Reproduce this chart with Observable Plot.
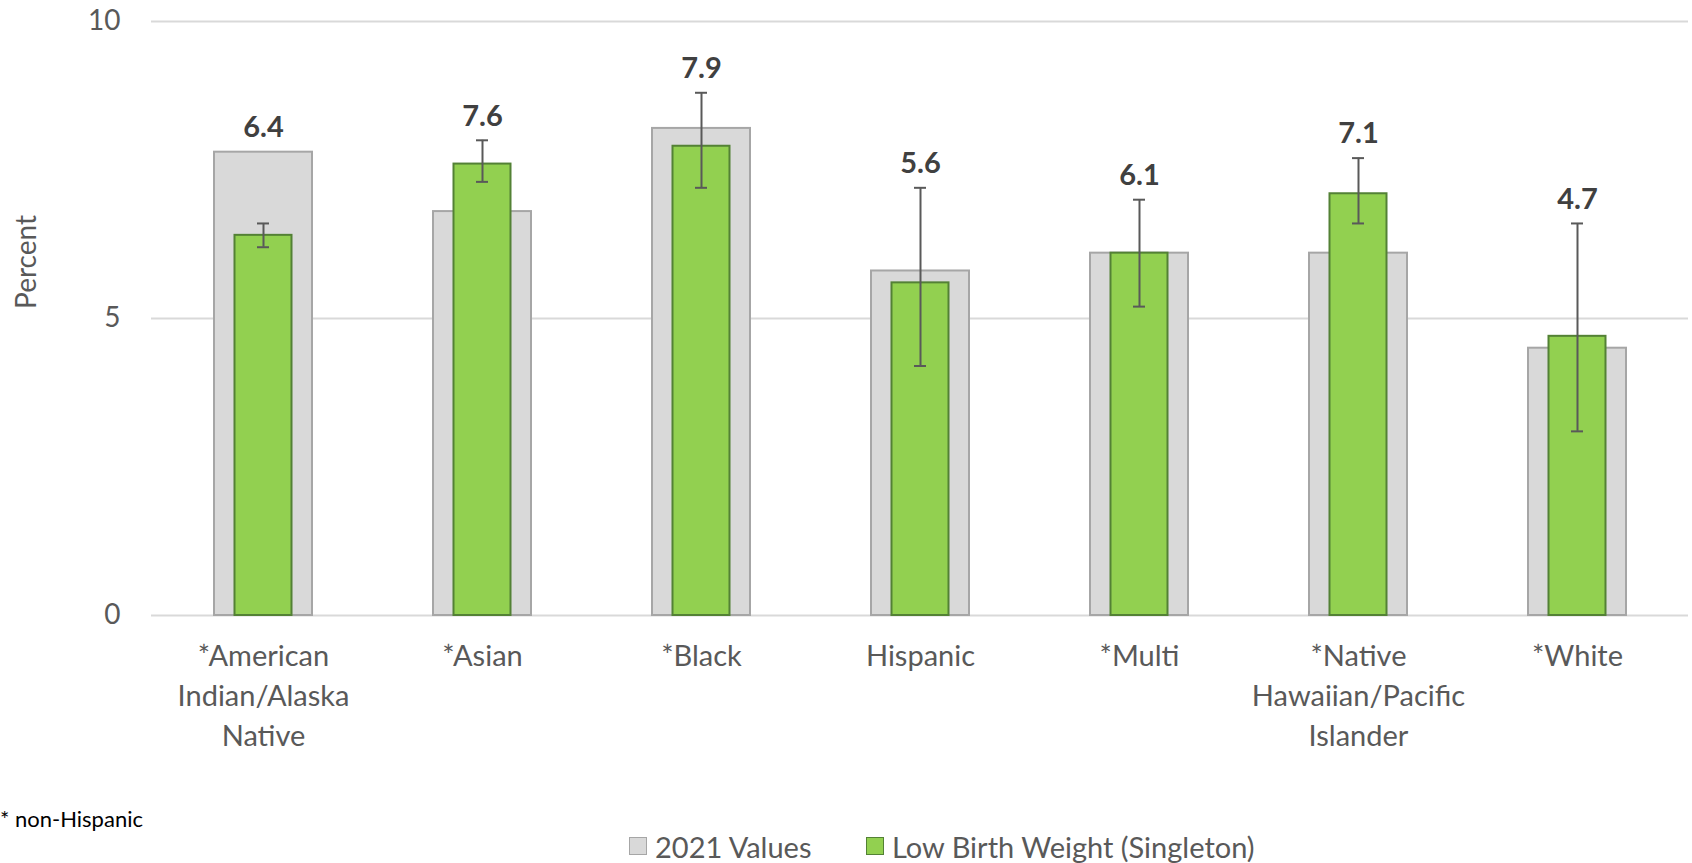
<!DOCTYPE html>
<html>
<head>
<meta charset="utf-8">
<script src="https://cdn.jsdelivr.net/npm/d3@7"></script>
<script src="https://cdn.jsdelivr.net/npm/@observablehq/plot@0.6"></script>
<style>
  html, body { margin: 0; padding: 0; background: #fff; }
  #wrap { position: relative; width: 1692px; height: 863px; overflow: hidden; font-family: Lato, "Open Sans", sans-serif; }
  #ylab { position: absolute; left: 25px; top: 262px; transform: translate(-50%, -50%) rotate(-90deg); font-size: 28px; line-height: 32px; color: #595959; white-space: nowrap; }
  #foot { position: absolute; left: 0; top: 806px; font-size: 22px; line-height: 26px; color: #000; white-space: nowrap; }
  .lg { position: absolute; top: 831px; height: 30px; display: flex; align-items: center; font-size: 29px; color: #595959; white-space: nowrap; }
  .sw { width: 16px; height: 16px; margin-right: 8px; box-sizing: content-box; }
</style>
</head>
<body>
<div id="wrap">
  <div id="chart"></div>
  <div id="ylab">Percent</div>
  <div id="foot">* non-Hispanic</div>
  <div class="lg" style="left:629px"><span class="sw" style="background:#d9d9d9;border:1.5px solid #a6a6a6"></span>2021 Values</div>
  <div class="lg" style="left:866px"><span class="sw" style="background:#92d050;border:1.5px solid #538135"></span>Low Birth Weight (Singleton)</div>
</div>
<script>
const categories = ["American Indian/Alaska Native", "Asian", "Black", "Hispanic", "Multi", "Native Hawaiian/Pacific Islander", "White"];
const tickLabels = ["*American\nIndian/Alaska\nNative", "*Asian", "*Black", "Hispanic", "*Multi", "*Native\nHawaiian/Pacific\nIslander", "*White"];
const values2021 = [7.8, 6.8, 8.2, 5.8, 6.1, 6.1, 4.5];
const lowBirthWeight = [6.4, 7.6, 7.9, 5.6, 6.1, 7.1, 4.7];
const ciLow = [6.2, 7.3, 7.2, 4.2, 5.2, 6.6, 3.1];
const ciHigh = [6.6, 8.0, 8.8, 7.2, 7.0, 7.7, 6.6];
const yTicks = [0, 5, 10];

const data = categories.map((c, i) => ({
  cat: c,
  prev: values2021[i],
  lbw: lowBirthWeight[i],
  lo: ciLow[i],
  hi: ciHigh[i],
  top: Math.max(values2021[i], ciHigh[i])
}));

const labelOf = d => tickLabels[categories.indexOf(d)];

const chart = Plot.plot({
  width: 1692,
  height: 760,
  marginLeft: 151,
  marginRight: 4,
  marginTop: 21,
  marginBottom: 145,
  style: { fontFamily: "Lato, 'Open Sans', sans-serif", background: "#fff" },
  x: { type: "band", domain: categories, paddingInner: 0.554, paddingOuter: 0.277 },
  y: { domain: [0, 10] },
  marks: [
    Plot.ruleY(yTicks, { stroke: "#d9d9d9", strokeWidth: 2 }),
    Plot.barY(data, { x: "cat", y: "prev", fill: "#d9d9d9", stroke: "#a6a6a6", strokeWidth: 2 }),
    Plot.barY(data, { x: "cat", y: "lbw", fill: "#92d050", stroke: "#538135", strokeWidth: 2, insetLeft: 20.5, insetRight: 20.5 }),
    Plot.ruleX(data, { x: "cat", y1: "lo", y2: "hi", stroke: "#595959", strokeWidth: 2 }),
    Plot.tickY(data, { x: "cat", y: "lo", stroke: "#595959", strokeWidth: 2, inset: 43 }),
    Plot.tickY(data, { x: "cat", y: "hi", stroke: "#595959", strokeWidth: 2, inset: 43 }),
    Plot.text(data, { x: "cat", y: "top", text: d => d.lbw.toFixed(1), dy: -24, fontSize: 29, fontWeight: "bold", fill: "#404040" }),
    Plot.axisY({ ticks: yTicks, tickSize: 0, tickPadding: 31, fontSize: 28, color: "#595959", label: null }),
    Plot.axisX({ tickSize: 0, tickPadding: 22, fontSize: 29, lineHeight: 1.38, color: "#595959", tickFormat: labelOf, label: null })
  ]
});
document.getElementById("chart").appendChild(chart);
</script>
</body>
</html>
